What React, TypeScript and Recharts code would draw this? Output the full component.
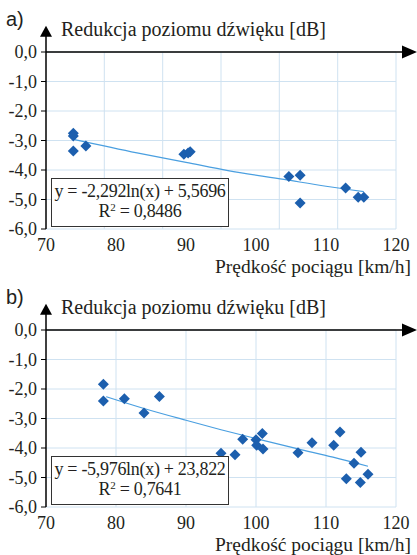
import React from 'react';
import {
  ComposedChart,
  Scatter,
  Line,
  XAxis,
  YAxis,
  CartesianGrid,
  ReferenceLine,
  ReferenceDot,
} from 'recharts';

// axes
const xTicks = [70, 80, 90, 100, 110, 120];
const yTicks = [-6, -5, -4, -3, -2, -1, 0];
const gridXA = [78.33, 86.67, 95, 103.33, 111.67, 120];
const gridXB = [80, 90, 100, 110, 120];

// panel a) measurements
const speedA = [73.9, 73.9, 73.9, 75.7, 89.7, 90.3, 90.6, 104.7, 106.3, 106.3, 112.8, 114.6, 115.4];
const levelA = [-2.75, -2.85, -3.36, -3.19, -3.47, -3.42, -3.38, -4.22, -4.18, -5.12, -4.61, -4.92, -4.92];
// panel a) trend line
const trendSpeedA = [74.1, 83, 90, 96, 104, 110, 115.4];
const trendLevelA = [-2.97, -3.42, -3.74, -4.02, -4.32, -4.55, -4.73];

// panel b) measurements
const speedB = [78.2, 78.2, 81.2, 84.0, 86.2, 95.0, 97.0, 98.1, 100.0, 100.9, 100.1, 101.0, 106.0, 108.0, 111.1, 112.0, 115.0, 114.0, 112.9, 114.9, 116.0];
const levelB = [-1.84, -2.41, -2.33, -2.81, -2.25, -4.18, -4.23, -3.7, -3.72, -3.51, -3.91, -4.03, -4.16, -3.82, -3.91, -3.46, -4.14, -4.52, -5.04, -5.17, -4.89];
// panel b) trend line
const trendSpeedB = [78.6, 84, 90, 95, 100, 106, 111, 116];
const trendLevelB = [-2.26, -2.66, -3.06, -3.38, -3.68, -4.03, -4.31, -4.62];

const SERIF = '"Liberation Serif", "DejaVu Serif", "Noto Serif", serif';
const SANS = '"Liberation Sans", Arial, sans-serif';
const GRID = '#cfe2f1';
const BLUE = '#1c5fae';
const TREND = '#4a9fe0';
const INK = '#231f20';

const zip = (xs: number[], ys: number[]) => xs.map((x, i) => ({ x, y: ys[i] }));

const Diamond = (p: any) => (
  <polygon
    points={`${p.cx},${p.cy - 5.5} ${p.cx + 5.5},${p.cy} ${p.cx},${p.cy + 5.5} ${p.cx - 5.5},${p.cy}`}
    fill={BLUE}
  />
);

const ArrowRight = (p: any) => (
  <polygon points={`${p.cx - 15},${p.cy - 6.5} ${p.cx},${p.cy} ${p.cx - 15},${p.cy + 6.5}`} fill="#000" />
);

const ArrowUp = (p: any) => (
  <polygon points={`${p.cx - 6},${p.cy + 11} ${p.cx},${p.cy} ${p.cx + 6},${p.cy + 11}`} fill="#000" />
);

const fmt = (v: number) => v.toFixed(1).replace('.', ',');

interface PanelProps {
  tag: string;
  height: number;
  points: { x: number; y: number }[];
  trend: { x: number; y: number }[];
  gridX: number[];
  eq: string;
  r2: string;
}

const Panel: React.FC<PanelProps> = ({ tag, height, points, trend, gridX, eq, r2 }) => (
  <div style={{ position: 'relative', width: 417, height }}>
    <ComposedChart width={417} height={height} margin={{ top: 52, right: 21, bottom: 0, left: 0 }}>
      <CartesianGrid vertical={false} stroke={GRID} />
      {gridX.map((v) => (
        <ReferenceLine key={v} x={v} stroke={GRID} />
      ))}
      <XAxis
        type="number"
        dataKey="x"
        domain={[70, 120]}
        ticks={xTicks}
        axisLine={false}
        tickLine={false}
        tickSize={0}
        tickMargin={9}
        height={height - 229}
        tick={{ fill: INK, fontSize: 18, fontFamily: SERIF }}
      />
      <YAxis
        type="number"
        dataKey="y"
        domain={[-6, 0]}
        ticks={yTicks}
        width={46}
        axisLine={{ stroke: '#000', strokeWidth: 1.5 }}
        tickLine={{ stroke: '#000' }}
        tickSize={5}
        tickMargin={4}
        tickFormatter={fmt}
        tick={{ fill: INK, fontSize: 18, fontFamily: SERIF }}
      />
      <ReferenceLine
        segment={[{ x: 70, y: 0 }, { x: 121, y: 0 }]}
        stroke="#000"
        strokeWidth={1.5}
        ifOverflow="visible"
      />
      <ReferenceLine
        segment={[{ x: 70, y: 0 }, { x: 70, y: 0.55 }]}
        stroke="#000"
        strokeWidth={1.5}
        ifOverflow="visible"
      />
      <ReferenceDot x={123} y={0} ifOverflow="visible" shape={ArrowRight} />
      <ReferenceDot x={70} y={0.89} ifOverflow="visible" shape={ArrowUp} />
      <Line
        data={trend}
        dataKey="y"
        type="monotone"
        stroke={TREND}
        strokeWidth={1.2}
        dot={false}
        isAnimationActive={false}
      />
      <Scatter data={points} fill={BLUE} shape={Diamond} isAnimationActive={false} />
    </ComposedChart>

    <div style={{ position: 'absolute', left: 6, top: 9, fontFamily: SANS, fontSize: 20, lineHeight: '20px', color: INK }}>
      {tag}
    </div>
    <div style={{ position: 'absolute', left: 61, top: 19, fontFamily: SERIF, fontSize: 20, lineHeight: '20px', color: INK, whiteSpace: 'nowrap' }}>
      Redukcja poziomu dźwięku [dB]
    </div>
    <div style={{ position: 'absolute', right: 6, top: 257, fontFamily: SERIF, fontSize: 19.5, lineHeight: '20px', color: INK, whiteSpace: 'nowrap' }}>
      Prędkość pociągu [km/h]
    </div>
    <div
      style={{
        position: 'absolute',
        left: 51,
        top: 178,
        width: 176,
        height: 45,
        border: '1.5px solid #333',
        background: '#fff',
        fontFamily: SERIF,
        fontSize: 18,
        lineHeight: '20px',
        color: INK,
        textAlign: 'center',
        letterSpacing: -0.3,
        whiteSpace: 'nowrap',
        paddingTop: 2,
      }}
    >
      <div>{eq}</div>
      <div>
        R<sup style={{ fontSize: 11, verticalAlign: 'top', lineHeight: '12px' }}>2</sup> = {r2}
      </div>
    </div>
  </div>
);

export default function App() {
  return (
    <div style={{ width: 417, height: 555, background: '#fff' }}>
      <style>{'body{margin:0}'}</style>
      <Panel
        tag="a)"
        height={278}
        points={zip(speedA, levelA)}
        trend={zip(trendSpeedA, trendLevelA)}
        gridX={gridXA}
        eq="y = -2,292ln(x) + 5,5696"
        r2="0,8486"
      />
      <Panel
        tag="b)"
        height={277}
        points={zip(speedB, levelB)}
        trend={zip(trendSpeedB, trendLevelB)}
        gridX={gridXB}
        eq="y = -5,976ln(x) + 23,822"
        r2="0,7641"
      />
    </div>
  );
}
